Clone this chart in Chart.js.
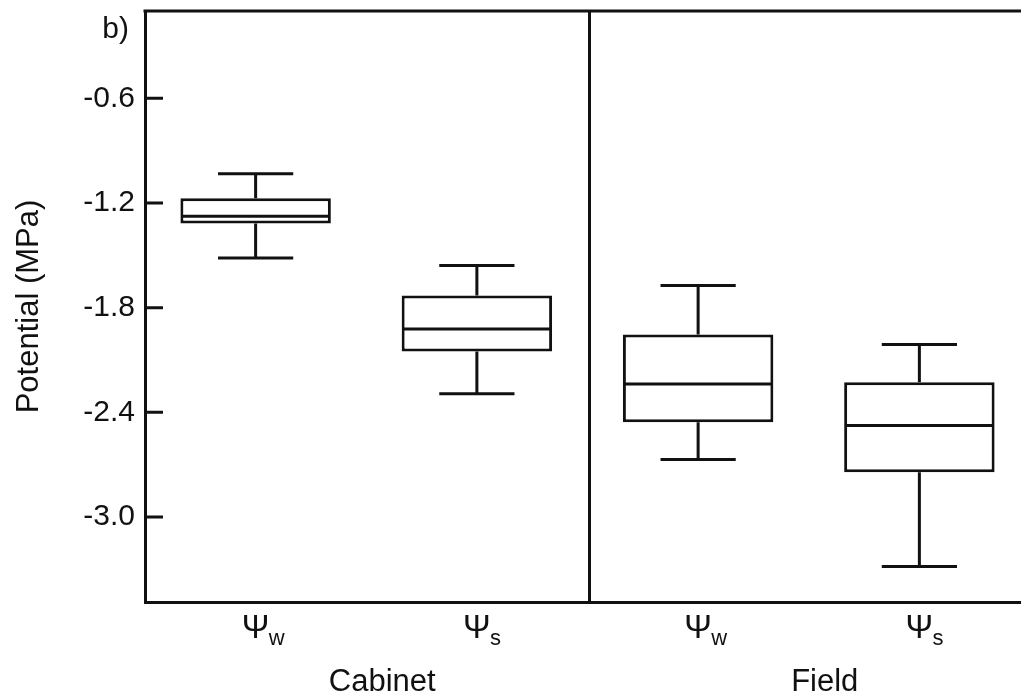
<!DOCTYPE html>
<html>
<head>
<meta charset="utf-8">
<script src="https://cdn.jsdelivr.net/npm/chart.js@4"></script>
<style>
  html, body { margin: 0; padding: 0; background: #fff; overflow: hidden; }
  #wrap { position: relative; width: 1040px; height: 698px; }
</style>
</head>
<body>
<div id="wrap"><canvas id="boxes"></canvas></div>
<script>
// water potential (w) and osmotic potential (s), cabinet vs field plants
const categories = ['Cabinet Ψw', 'Cabinet Ψs', 'Field Ψw', 'Field Ψs'];
const subscripts = ['w', 's', 'w', 's'];
const groups = ['Cabinet', 'Field'];
const whiskerMax = [-1.033, -1.559, -1.673, -2.011];
const q3 = [-1.173, -1.731, -1.954, -2.228];
const median = [-1.276, -1.922, -2.237, -2.476];
const q1 = [-1.318, -2.052, -2.457, -2.743];
const whiskerMin = [-1.515, -2.294, -2.671, -3.284];
const tickValues = [-3.0, -2.4, -1.8, -1.2, -0.6];

const FONT = '"Liberation Sans", Arial, sans-serif';
const INK = '#111';
const LW = 3;

// whiskers, caps and median lines on top of the floating bars
const boxParts = {
  id: 'boxParts',
  afterDatasetsDraw(chart) {
    const ctx = chart.ctx;
    const y = chart.scales.y;
    const meta = chart.getDatasetMeta(0);
    ctx.save();
    ctx.strokeStyle = INK;
    ctx.lineWidth = LW;
    ctx.lineCap = 'butt';
    meta.data.forEach((bar, i) => {
      const cx = bar.x;
      const half = bar.width / 2 - LW / 2;
      const cap = bar.width / 4;
      const top = y.getPixelForValue(q3[i]);
      const bot = y.getPixelForValue(q1[i]);
      const hi = y.getPixelForValue(whiskerMax[i]);
      const lo = y.getPixelForValue(whiskerMin[i]);
      const med = y.getPixelForValue(median[i]);
      ctx.beginPath();
      ctx.moveTo(cx, top); ctx.lineTo(cx, hi);
      ctx.moveTo(cx - cap, hi); ctx.lineTo(cx + cap, hi);
      ctx.moveTo(cx, bot); ctx.lineTo(cx, lo);
      ctx.moveTo(cx - cap, lo); ctx.lineTo(cx + cap, lo);
      ctx.moveTo(cx - half, med); ctx.lineTo(cx + half, med);
      ctx.stroke();
    });
    ctx.restore();
  }
};

// frame, inward ticks, divider and the labels with subscripts
const frame = {
  id: 'frame',
  afterDraw(chart) {
    const ctx = chart.ctx;
    const a = chart.chartArea;
    const x = chart.scales.x;
    const y = chart.scales.y;
    ctx.save();
    ctx.strokeStyle = INK;
    ctx.lineWidth = LW;
    ctx.beginPath();
    ctx.moveTo(a.left - LW / 2, a.top);
    ctx.lineTo(a.right, a.top);
    const mid = (x.getPixelForValue(1) + x.getPixelForValue(2)) / 2 + 2;
    ctx.moveTo(mid, a.top);
    ctx.lineTo(mid, a.bottom);
    y.ticks.forEach((t, i) => {
      const py = y.getPixelForTick(i);
      ctx.moveTo(a.left, py);
      ctx.lineTo(a.left + 18, py);
    });
    ctx.stroke();

    ctx.fillStyle = INK;
    ctx.textBaseline = 'alphabetic';
    // Ψ with subscript under each box
    categories.forEach((c, i) => {
      const cx = x.getPixelForValue(i);
      ctx.font = '33px ' + FONT;
      ctx.textAlign = 'center';
      ctx.fillText('Ψ', cx, 638);
      ctx.font = '22px ' + FONT;
      ctx.textAlign = 'left';
      ctx.fillText(subscripts[i], cx + 13, 645);
    });
    // group names
    ctx.font = '31px ' + FONT;
    ctx.textAlign = 'center';
    groups.forEach((g, k) => {
      const gx = (x.getPixelForValue(2 * k) + x.getPixelForValue(2 * k + 1)) / 2 + 16;
      ctx.fillText(g, gx, 691);
    });
    // panel letter
    ctx.font = '30px ' + FONT;
    ctx.textAlign = 'right';
    ctx.fillText('b)', 129, 38);
    ctx.restore();
  }
};

new Chart(document.getElementById('boxes'), {
  type: 'bar',
  data: {
    labels: categories,
    datasets: [{
      data: categories.map((c, i) => [q1[i], q3[i]]),
      backgroundColor: '#fff',
      borderColor: INK,
      borderWidth: LW,
      borderSkipped: false,
      barPercentage: 0.68,
      categoryPercentage: 1.0
    }]
  },
  options: {
    responsive: true,
    maintainAspectRatio: false,
    animation: false,
    layout: { padding: { top: 11, right: 10, bottom: 0, left: 0 } },
    plugins: {
      legend: { display: false },
      tooltip: { enabled: false }
    },
    scales: {
      x: {
        type: 'category',
        grid: { display: false },
        ticks: { display: false },
        border: { display: true, color: INK, width: LW },
        afterFit(s) { s.height = 96; s.paddingLeft = 0; s.paddingRight = 0; }
      },
      y: {
        min: -3.487,
        max: -0.1,
        grid: { display: false, drawTicks: false },
        border: { display: true, color: INK, width: LW },
        afterBuildTicks(s) { s.ticks = tickValues.map(v => ({ value: v })); },
        ticks: {
          color: INK,
          padding: 10,
          font: { family: FONT, size: 30 },
          callback: v => v.toFixed(1)
        },
        title: {
          display: true,
          text: 'Potential (MPa)',
          color: INK,
          padding: { top: 11, bottom: 0 },
          font: { family: FONT, size: 31 }
        },
        afterFit(s) { s.width = 145; s.paddingTop = 0; s.paddingBottom = 0; }
      }
    }
  },
  plugins: [boxParts, frame]
});
</script>
</body>
</html>
